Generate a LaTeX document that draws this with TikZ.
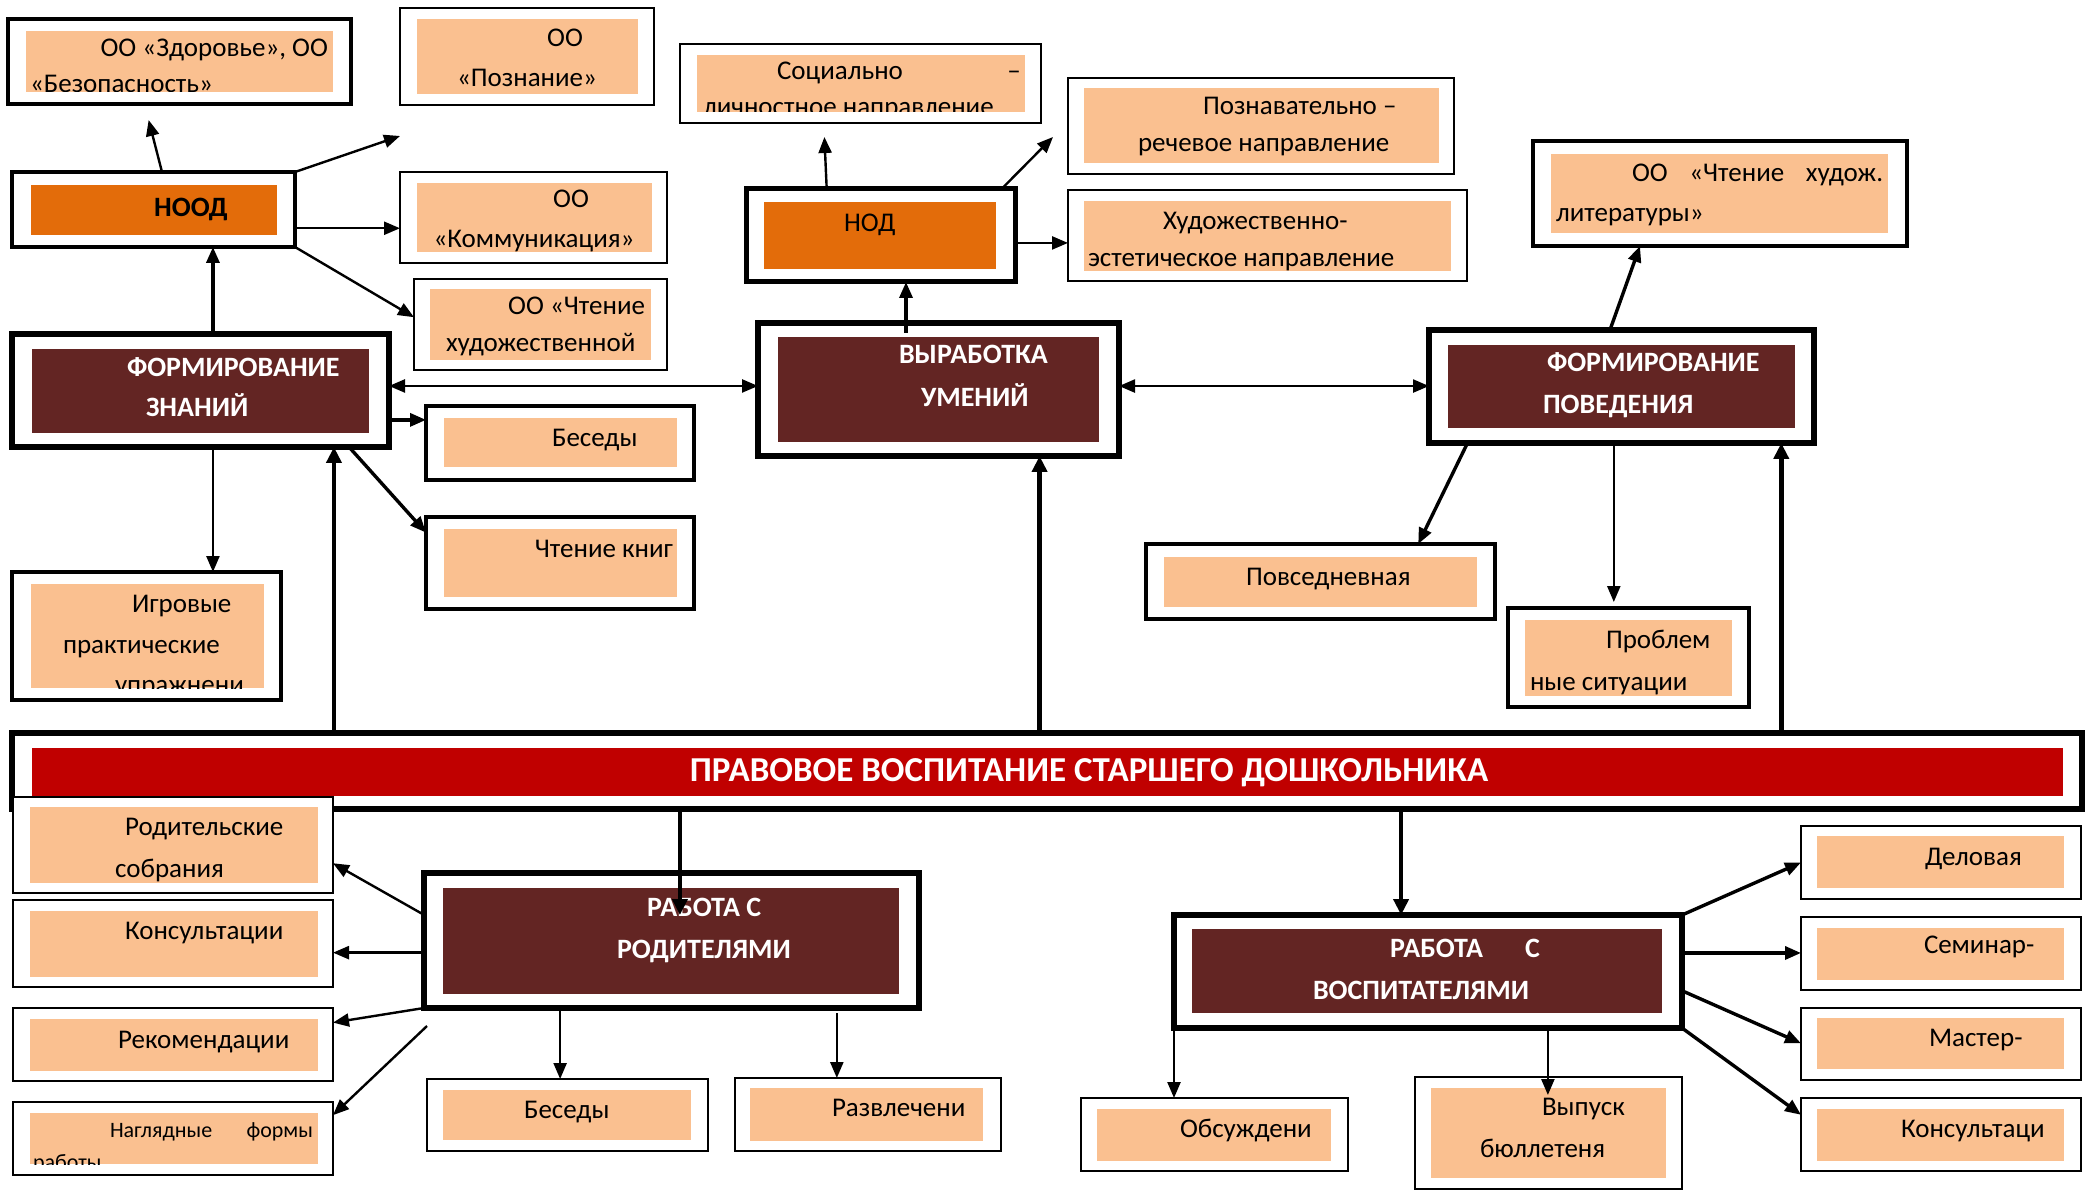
\documentclass[tikz,border=0pt]{standalone}
\usepackage{fontspec}
\setmainfont{Carlito}
\usetikzlibrary{calc,fit,arrows.meta}
\definecolor{peach}{HTML}{FAC090}
\definecolor{orng}{HTML}{E36C0A}
\definecolor{dred}{HTML}{632523}
\definecolor{bred}{HTML}{C00000}
\begin{document}
\begin{tikzpicture}[x=0.5pt,y=-0.5pt,
 ob/.style={draw=black, fill=white, inner sep=0pt, outer sep=0pt},
 tx/.style={font=\fontsize{13.5}{16}\selectfont, inner sep=0pt, outer sep=0pt},
 hd/.style={font=\fontsize{14}{16}\selectfont\bfseries, text=white, inner sep=0pt, outer sep=0pt},
 ar/.style={-{Triangle[length=8pt,width=6.5pt]}, line width=1.2pt},
 arM/.style={-{Triangle[length=8pt,width=6.5pt]}, line width=1.7pt},
 arT/.style={-{Triangle[length=8pt,width=7.5pt]}, line width=2.4pt},
 arD/.style={{Triangle[length=8pt,width=6.5pt]}-{Triangle[length=8pt,width=6.5pt]}, line width=1.2pt}]
\useasboundingbox (0,0) rectangle (2088,1192);
\fill[white] (0,0) rectangle (2088,1192);

% ---------- boxes ----------
\node[ob, line width=1.75pt, fit={(8,19)(351,104)}] (zdr) {};
\fill[peach] (26,31) rectangle (333,92);
\node[ob, line width=1pt, fit={(400,8)(654,105)}] (pozn) {};
\fill[peach] (417,19) rectangle (638,94);
\node[ob, line width=2pt, fit={(12,172)(295,247)}] (nood) {};
\fill[orng] (31,185) rectangle (277,235);
\node[ob, line width=1pt, fit={(400,172)(667,263)}] (komm) {};
\fill[peach] (417,183) rectangle (652,252);
\node[ob, line width=1pt, fit={(414,279)(667,370)}] (chtx) {};
\fill[peach] (430,289) rectangle (651,360);
\node[ob, line width=3pt, fit={(12,334)(389,447)}] (fz) {};
\fill[dred] (32,349) rectangle (369,433);
\node[ob, line width=2pt, fit={(426,406)(694,480)}] (bes1) {};
\fill[peach] (444,418) rectangle (677,467);
\node[ob, line width=2pt, fit={(426,517)(694,609)}] (chk) {};
\fill[peach] (444,529) rectangle (677,597);
\node[ob, line width=2pt, fit={(12,572)(281,700)}] (igr) {};
\fill[peach] (31,584) rectangle (264,688);
\node[ob, line width=1pt, fit={(680,44)(1041,123)}] (soc) {};
\fill[peach] (697,55) rectangle (1025,112);
\node[ob, line width=1pt, fit={(1068,78)(1454,174)}] (pozv) {};
\fill[peach] (1084,88) rectangle (1439,163);
\node[ob, line width=2.5pt, fit={(746,189)(1015,282)}] (nod) {};
\fill[orng] (764,202) rectangle (996,269);
\node[ob, line width=1pt, fit={(1068,190)(1467,281)}] (hud) {};
\fill[peach] (1084,201) rectangle (1451,271);
\node[ob, line width=2.25pt, fit={(1533,141)(1907,246)}] (chlit) {};
\fill[peach] (1551,154) rectangle (1888,233);
\node[ob, line width=2.75pt, fit={(758,323)(1119,456)}] (vu) {};
\fill[dred] (778,337) rectangle (1099,442);
\node[ob, line width=2.75pt, fit={(1429,330)(1814,443)}] (fp) {};
\fill[dred] (1448,345) rectangle (1795,428);
\node[ob, line width=2pt, fit={(1146,544)(1495,619)}] (povs) {};
\fill[peach] (1164,557) rectangle (1477,607);
\node[ob, line width=1.75pt, fit={(1508,608)(1749,707)}] (probl) {};
\fill[peach] (1525,620) rectangle (1732,696);
\node[ob, line width=2.75pt, fit={(12,733)(2082,809)}] (bar) {};
\fill[bred] (32,748) rectangle (2063,796);
\node[ob, line width=1.25pt, fit={(13,797)(333,893)}] (rodsob) {};
\fill[peach] (30,807) rectangle (318,883);
\node[ob, line width=1.25pt, fit={(13,900)(333,987)}] (kons1) {};
\fill[peach] (30,911) rectangle (318,977);
\node[ob, line width=1.25pt, fit={(13,1008)(333,1081)}] (rek) {};
\fill[peach] (30,1019) rectangle (318,1071);
\node[ob, line width=1.25pt, fit={(13,1102)(333,1175)}] (nagl) {};
\fill[peach] (30,1113) rectangle (318,1164);
\node[ob, line width=3pt, fit={(424,873)(919,1008)}] (rr) {};
\fill[dred] (443,888) rectangle (899,994);
\node[ob, line width=1.25pt, fit={(427,1079)(708,1151)}] (bes2) {};
\fill[peach] (443,1090) rectangle (691,1140);
\node[ob, line width=1.25pt, fit={(735,1078)(1001,1151)}] (razv) {};
\fill[peach] (750,1088) rectangle (983,1141);
\node[ob, line width=3pt, fit={(1174,915)(1682,1028)}] (rv) {};
\fill[dred] (1192,929) rectangle (1662,1013);
\node[ob, line width=1.25pt, fit={(1801,826)(2081,899)}] (del) {};
\fill[peach] (1817,836) rectangle (2064,888);
\node[ob, line width=1.25pt, fit={(1801,917)(2081,990)}] (sem) {};
\fill[peach] (1817,928) rectangle (2064,980);
\node[ob, line width=1.25pt, fit={(1801,1008)(2081,1080)}] (mast) {};
\fill[peach] (1817,1018) rectangle (2064,1069);
\node[ob, line width=1.25pt, fit={(1801,1098)(2081,1171)}] (kons2) {};
\fill[peach] (1817,1109) rectangle (2064,1161);
\node[ob, line width=1.25pt, fit={(1081,1098)(1348,1171)}] (obs) {};
\fill[peach] (1097,1109) rectangle (1331,1161);
\node[ob, line width=1.25pt, fit={(1415,1077)(1682,1189)}] (vyp) {};
\fill[peach] (1431,1088) rectangle (1666,1178);

% ---------- texts ----------
\begin{scope}
\clip (26,31) rectangle (333,92);
\node[tx, anchor=base east] (t1) at (328,57) {ОО «Здоровье», ОО};
\node[tx, anchor=base west] (t2) at (30,93) {«Безопасность»};
\end{scope}
\node[tx, anchor=base] (t3) at (565,47) {ОО};
\node[tx, anchor=base] (t4) at (527,87) {«Познание»};
\node[tx, font=\fontsize{14}{16}\selectfont\bfseries, anchor=base] (t5) at (191,217) {НООД};
\node[tx, anchor=base] (t6) at (571,208) {ОО};
\node[tx, anchor=base] (t7) at (534,248) {«Коммуникация»};
\node[tx, anchor=base east] (t8) at (645,315) {ОО «Чтение};
\node[tx, anchor=base west] (t9) at (446,352) {художественной};
\node[hd, anchor=base west] (t10) at (127,377) {ФОРМИРОВАНИЕ};
\node[hd, anchor=base west] (t11) at (146,417) {ЗНАНИЙ};
\node[tx, anchor=base west] (t12) at (552,447) {Беседы};
\node[tx, anchor=base east] (t13) at (673,557) {Чтение книг};
\begin{scope}
\clip (31,584) rectangle (264,688);
\node[tx, anchor=base west] (t14) at (132,612) {Игровые};
\node[tx, anchor=base west] (t15) at (63,653) {практические};
\node[tx, anchor=base west] (t16) at (115,693) {упражнени};
\end{scope}
\begin{scope}
\clip (697,55) rectangle (1025,112);
\node[tx, anchor=base west] (t17) at (777,80) {Социально};
\node[tx, anchor=base] (t18) at (1014,80) {–};
\node[tx, anchor=base west] (t19) at (703,116) {личностное направление};
\end{scope}
\node[tx, anchor=base west] (t20) at (1203,115) {Познавательно –};
\node[tx, anchor=base west] (t21) at (1138,152) {речевое направление};
\node[tx, anchor=base west] (t22) at (844,232) {НОД};
\node[tx, anchor=base west] (t23) at (1163,230) {Художественно-};
\node[tx, anchor=base west] (t24) at (1088,267) {эстетическое направление};
\node[tx, anchor=base west] (t25) at (1632,182) {\hbox to 125.5pt{ОО\hfill«Чтение\hfill худож.}};
\node[tx, anchor=base west] (t26) at (1556,222) {литературы»};
\node[hd, anchor=base west] (t27) at (1547,372) {ФОРМИРОВАНИЕ};
\node[hd, anchor=base west] (t28) at (1543,414) {ПОВЕДЕНИЯ};
\node[hd, anchor=base west] (t29) at (899,364) {ВЫРАБОТКА};
\node[hd, anchor=base west] (t30) at (921,407) {УМЕНИЙ};
\node[tx, anchor=base west] (t31) at (1246,585) {Повседневная};
\node[tx, anchor=base west] (t32) at (1606,648) {Проблем};
\node[tx, anchor=base west] (t33) at (1530,690) {ные ситуации};
\node[hd, font=\fontsize{17.5}{19}\selectfont\bfseries, anchor=base] (t34) at (1089,781) {ПРАВОВОЕ ВОСПИТАНИЕ СТАРШЕГО ДОШКОЛЬНИКА};
\node[tx, anchor=base west] (t35) at (125,835) {Родительские};
\node[tx, anchor=base west] (t36) at (115,877) {собрания};
\node[tx, anchor=base west] (t37) at (125,939) {Консультации};
\node[tx, anchor=base west] (t38) at (118,1048) {Рекомендации};
\begin{scope}
\clip (30,1113) rectangle (318,1164);
\node[tx, font=\fontsize{11}{13}\selectfont, anchor=base west] (t39) at (110,1137) {\hbox to 101.5pt{Наглядные\hfill формы}};
\node[tx, font=\fontsize{11}{13}\selectfont, anchor=base west] (t40) at (33,1169) {работы};
\end{scope}
\node[hd, anchor=base west] (t41) at (647,916) {РАБОТА С};
\node[hd, anchor=base west] (t42) at (617,958) {РОДИТЕЛЯМИ};
\node[tx, anchor=base west] (t43) at (524,1118) {Беседы};
\node[tx, anchor=base west] (t44) at (832,1116) {Развлечени};
\node[hd, anchor=base west] (t45) at (1390,957) {\hbox to 75pt{РАБОТА\hfill С}};
\node[hd, anchor=base west] (t46) at (1313,999) {ВОСПИТАТЕЛЯМИ};
\node[tx, anchor=base west] (t47) at (1925,865) {Деловая};
\begin{scope}
\clip (1817,928) rectangle (2064,980);
\node[tx, anchor=base west] (t48) at (1924,953) {Семинар-};
\node[tx, anchor=base west] (t49) at (1880,998) {практикум};
\end{scope}
\node[tx, anchor=base west] (t50) at (1929,1046) {Мастер-};
\node[tx, anchor=base west] (t51) at (1901,1137) {Консультаци};
\node[tx, anchor=base west] (t52) at (1180,1137) {Обсуждени};
\node[tx, anchor=base west] (t53) at (1542,1115) {Выпуск};
\node[tx, anchor=base west] (t54) at (1480,1157) {бюллетеня};

% ---------- connectors ----------
% НООД
\draw[ar] ($(nood.north west)!0.53!(nood.north east)$) -- ($(zdr.south west)!0.41!(zdr.south east)+(0,-8pt)$);
\draw[ar] (nood.north east) -- ($(pozn.south west)+(0,-15.5pt)$);
\path ($(nood.north east)!0.75!(nood.south east)$) coordinate (c1);
\draw[ar] (c1) -- (c1 -| komm.west);
\draw[ar] (nood.south east) -- ($(chtx.north west)!0.42!(chtx.south west)$);
% ФЗ
\path ($(fz.north west)!0.533!(fz.north east)$) coordinate (c2);
\draw[arM] (c2) -- (c2 |- nood.south);
\path ($(fz.north east)!0.46!(fz.south east)$) coordinate (c3);
\draw[arD] (c3) -- (c3 -| vu.west);
\path ($(fz.north east)!0.76!(fz.south east)$) coordinate (c4);
\draw[arM] (c4) -- (c4 -| bes1.west);
\draw[arM] ($(fz.south west)!0.894!(fz.south east)$) -- ($(chk.north west)!0.17!(chk.south west)$);
\path ($(fz.south west)!0.533!(fz.south east)$) coordinate (c5);
\draw[ar] (c5) -- (c5 |- igr.north);
\path ($(fz.south west)!0.854!(fz.south east)$) coordinate (c6);
\draw[arT] (c6 |- bar.north) -- (c6);
% НОД
\draw[ar] ($(nod.north west)!0.30!(nod.north east)$) -- ($(soc.south west)!0.40!(soc.south east)+(0,-7pt)$);
\draw[ar] ($(nod.north west)!0.95!(nod.north east)$) -- ($(pozv.west)+(-7.5pt,-5.5pt)$);
\path ($(nod.north east)!0.58!(nod.south east)$) coordinate (c7);
\draw[ar] (c7) -- (c7 -| hud.west);
\path ($(vu.north west)!0.41!(vu.north east)+(0,-5pt)$) coordinate (c8);
\draw[arM] (c8) -- (c8 |- nod.south);
\path ($(vu.south west)!0.78!(vu.south east)$) coordinate (c9);
\draw[arT] (c9 |- bar.north) -- (c9);
% ФП
\draw[arM] ($(fp.north west)!0.47!(fp.north east)$) -- ($(chlit.south west)!0.286!(chlit.south east)$);
\path ($(vu.north east)!0.474!(vu.south east)$) coordinate (c10);
\draw[arD] (c10) -- (c10 -| fp.west);
\draw[arM] ($(fp.south west)!0.10!(fp.south east)$) -- ($(povs.north west)!0.78!(povs.north east)$);
\path ($(fp.south west)!0.48!(fp.south east)$) coordinate (c11);
\draw[ar] (c11) -- ($(c11 |- probl.north)+(0,3pt)$);
\path ($(fp.south west)!0.915!(fp.south east)$) coordinate (c12);
\draw[arT] (c12 |- bar.north) -- (c12);
% РР
\path ($(rr.north west)!0.517!(rr.north east)+(0,-21pt)$) coordinate (c13);
\draw[arT] (c13 |- bar.south) -- (c13);
\draw[ar] ($(rr.north west)!0.31!(rr.south west)$) -- ($(rodsob.north east)!0.69!(rodsob.south east)$);
\path ($(rr.north west)!0.59!(rr.south west)$) coordinate (c14);
\draw[ar] (c14) -- (c14 -| kons1.east);
\draw[ar] (rr.south west) -- ($(rek.north east)!0.2!(rek.south east)$);
\draw[ar] ($(rr.south west)+(1.5pt,-9pt)$) -- ($(nagl.north east)!0.18!(nagl.south east)$);
\path ($(rr.south west)!0.275!(rr.south east)$) coordinate (c15);
\draw[ar] (c15) -- (c15 |- bes2.north);
\path ($(rr.south west)!0.834!(rr.south east)+(0,-2.5pt)$) coordinate (c16);
\draw[ar] (c16) -- (c16 |- razv.north);
% РВ
\path ($(rv.north west)!0.447!(rv.north east)$) coordinate (c17);
\draw[arT] (c17 |- bar.south) -- (c17);
\draw[arM] (rv.north east) -- (del.west);
\path ($(rv.north east)!0.336!(rv.south east)$) coordinate (c18);
\draw[arM] (c18) -- (c18 -| sem.west);
\draw[arM] ($(rv.north east)!0.67!(rv.south east)$) -- ($(mast.north west)!0.49!(mast.south west)$);
\draw[arM] (rv.south east) -- ($(kons2.north west)!0.23!(kons2.south west)$);
\draw[ar] (rv.south west) -- (rv.south west |- obs.north);
\path ($(rv.south west)!0.736!(rv.south east)$) coordinate (c19);
\draw[ar] (c19) -- ($(c19 |- vyp.north)+(0,-9pt)$);
\end{tikzpicture}
\end{document}
